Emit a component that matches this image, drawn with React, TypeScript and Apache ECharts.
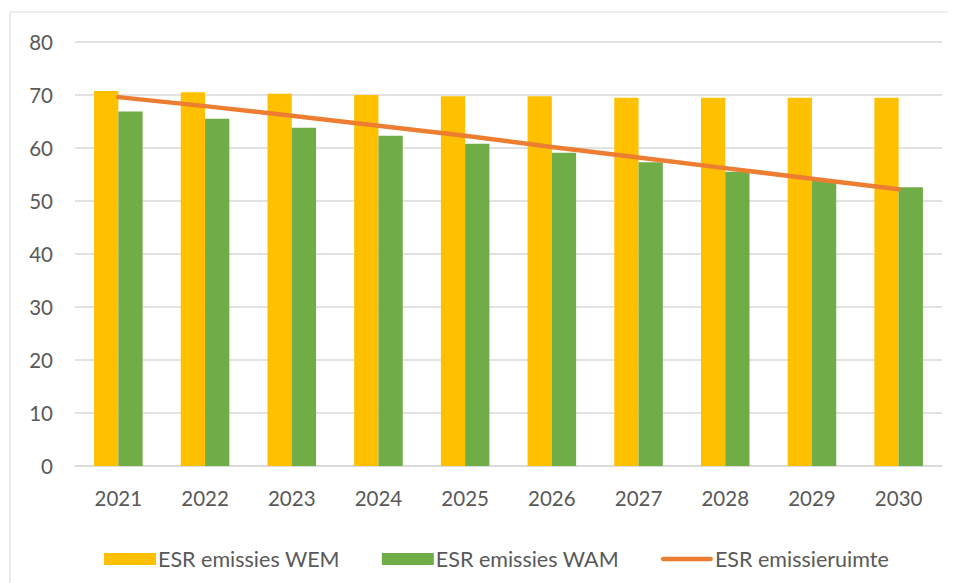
import React, { useEffect, useRef } from "react";
import * as echarts from "echarts";

const years = ["2021", "2022", "2023", "2024", "2025", "2026", "2027", "2028", "2029", "2030"];
const wem = [70.75, 70.5, 70.25, 70.0, 69.75, 69.75, 69.5, 69.5, 69.5, 69.5];
const wam = [66.9, 65.5, 63.8, 62.3, 60.8, 59.1, 57.3, 55.5, 53.8, 52.6];
const ruimte = [69.6, 67.9, 66.1, 64.2, 62.3, 60.2, 58.2, 56.2, 54.2, 52.2];
const seriesNames = ["ESR emissies WEM", "ESR emissies WAM", "ESR emissieruimte"];

const FONT = "Lato, 'Open Sans', sans-serif";
const TXT = "#595959";
const LINE_ICON = "path://M2.5,0 L54.5,0 A2.5,2.5 0 0 1 54.5,5 L2.5,5 A2.5,2.5 0 0 1 2.5,0 Z";

export default function App() {
  const ref = useRef<HTMLDivElement>(null);
  useEffect(() => {
    if (!ref.current) return;
    const chart = echarts.init(ref.current, null, { renderer: "svg" });
    chart.setOption({
      animation: false,
      backgroundColor: "#ffffff",
      textStyle: { fontFamily: FONT, color: TXT },
      graphic: [
        {
          type: "rect",
          shape: { x: 2, y: 4, width: 1000, height: 700 },
          style: { fill: "none", stroke: "#dedede", lineWidth: 1.2 },
          silent: true,
          z: -1,
        },
      ],
      grid: { left: 67, right: 14, top: 34, bottom: 117 },
      legend: {
        left: 91,
        top: 535,
        itemWidth: 52,
        itemHeight: 12,
        itemGap: 42,
        symbolKeepAspect: true,
        textStyle: { fontFamily: FONT, fontSize: 21.5, color: TXT, padding: [0, 0, 0, -3] },
        data: [
          { name: seriesNames[0], icon: "rect" },
          { name: seriesNames[1], icon: "rect" },
          { name: seriesNames[2], icon: LINE_ICON },
        ],
      },
      xAxis: {
        type: "category",
        data: years,
        axisLine: { show: true, lineStyle: { color: "#d9d9d9", width: 1.5 } },
        axisTick: { show: false },
        axisLabel: { color: TXT, fontSize: 20.5, fontFamily: FONT, margin: 21 },
      },
      yAxis: {
        type: "value",
        min: 0,
        max: 80,
        interval: 10,
        axisLine: { show: false },
        axisTick: { show: false },
        splitLine: { lineStyle: { color: "#d9d9d9", width: 1.5 } },
        axisLabel: { color: TXT, fontSize: 20.5, fontFamily: FONT, margin: 22 },
      },
      series: [
        {
          name: seriesNames[0],
          type: "bar",
          data: wem,
          barGap: "0%",
          barCategoryGap: "44%",
          itemStyle: { color: "#FFC000" },
        },
        {
          name: seriesNames[1],
          type: "bar",
          data: wam,
          itemStyle: { color: "#70AD47" },
        },
        {
          name: seriesNames[2],
          type: "line",
          data: ruimte,
          symbol: "none",
          lineStyle: { color: "#ED7D31", width: 4.5, cap: "round" },
          itemStyle: { color: "#ED7D31" },
          z: 5,
        },
      ],
    });
    return () => chart.dispose();
  }, []);
  return <div ref={ref} style={{ width: 948, height: 575 }} />;
}
